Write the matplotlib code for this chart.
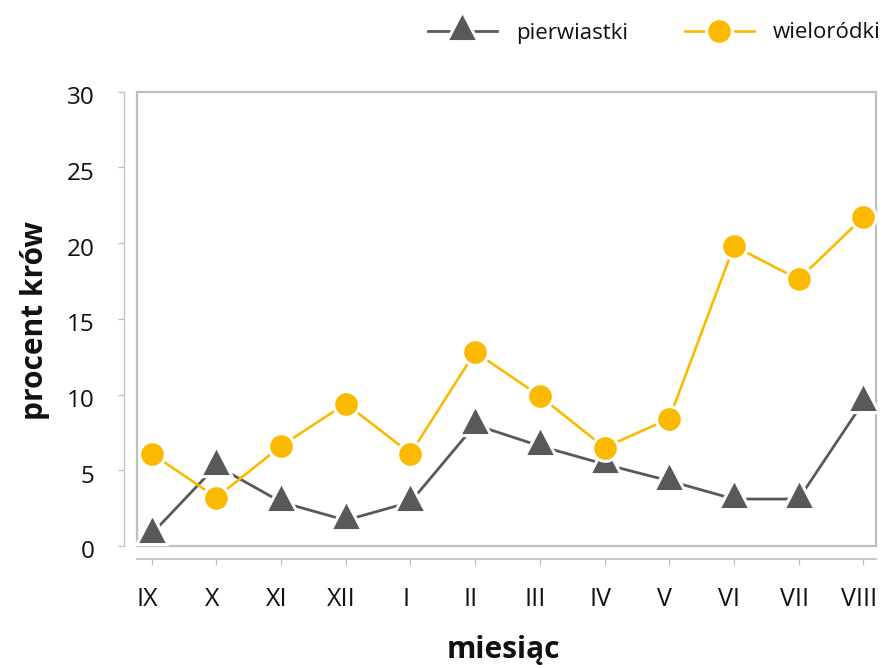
import matplotlib
matplotlib.use('Agg')
import matplotlib.pyplot as plt
import matplotlib.transforms as mtransforms
from matplotlib.markers import MarkerStyle
from matplotlib.patches import Rectangle

months = ['IX', 'X', 'XI', 'XII', 'I', 'II', 'III', 'IV', 'V', 'VI', 'VII', 'VIII']
pierwiastki = [0.8, 5.3, 2.9, 1.7, 2.9, 8.0, 6.6, 5.4, 4.3, 3.1, 3.1, 9.5]
wielorodki = [6.1, 3.2, 6.6, 9.4, 6.1, 12.8, 9.9, 6.5, 8.4, 19.8, 17.6, 21.7]
yticks = [0, 5, 10, 15, 20, 25, 30]

GRAY = '#595959'
GOLD = '#FBBA00'
AXC = '#BFBFBF'
TXT = '#111111'

plt.rcParams['font.family'] = ['Open Sans', 'DejaVu Sans']

fig = plt.figure(figsize=(8.83, 6.68), dpi=100)
ax = fig.add_axes([136.5 / 883, 1 - 546 / 668, 739.5 / 883, 454.5 / 668])

x = list(range(len(months)))
tri = MarkerStyle([(0, 1), (-0.78, -0.5), (0.78, -0.5), (0, 1)], joinstyle='miter')

ax.plot(x, pierwiastki, color=GRAY, lw=2.0, marker=tri, ms=29, mfc=GRAY,
        mec='white', mew=2.2, label='pierwiastki', zorder=3, clip_on=False)
ax.plot(x, wielorodki, color=GOLD, lw=1.9, marker='o', ms=18.5, mfc=GOLD,
        mec='white', mew=2.2, label='wieloródki', zorder=4, clip_on=False)

ax.set_xlim(-0.235, 11.196)
ax.set_ylim(0, 30)

ax.add_patch(Rectangle((0, 0), 1, 1, transform=ax.transAxes, fill=False,
                       ec=AXC, lw=1.6, zorder=1, clip_on=False))

for s in ['top', 'right']:
    ax.spines[s].set_visible(False)
ax.spines['left'].set_position(('outward', 9))
ax.spines['bottom'].set_position(('outward', 9.4))
ax.spines['left'].set_color(AXC)
ax.spines['bottom'].set_color(AXC)
ax.spines['left'].set_linewidth(0.9)
ax.spines['bottom'].set_linewidth(1.2)

ax.set_yticks(yticks)
ax.set_yticklabels([str(v) for v in yticks])
ax.set_xticks(x)
ax.set_xticklabels(months)
ax.tick_params(axis='y', length=4.3, width=0.9, color=AXC, pad=17,
               labelsize=17.5, labelcolor=TXT)
ax.tick_params(axis='x', length=4.3, width=0.9, color=AXC, pad=16,
               labelsize=18, labelcolor=TXT)

offx = mtransforms.ScaledTranslation(-4.5 / 100, 0, fig.dpi_scale_trans)
for lab in ax.get_xticklabels():
    lab.set_transform(lab.get_transform() + offx)
offy = mtransforms.ScaledTranslation(0, -3.5 / 100, fig.dpi_scale_trans)
for lab in ax.get_yticklabels():
    lab.set_transform(lab.get_transform() + offy)

fig.text(35 / 883, 1 - 321 / 668, 'procent krów', rotation=90, ha='center',
         va='center', fontsize=21.5, fontweight='bold', color=TXT)
fig.text(503 / 883, 1 - 650 / 668, 'miesiąc', ha='center', va='center',
         fontsize=21.5, fontweight='bold', color=TXT)

ax.legend(loc='center left', bbox_to_anchor=(428 / 883, 1 - 33 / 668),
          bbox_transform=fig.transFigure, ncol=2, frameon=False, borderpad=0,
          borderaxespad=0, handlelength=3.1, handletextpad=0.86,
          columnspacing=2.56, fontsize=16, labelcolor=TXT)

fig.savefig('out.png', dpi=100)
